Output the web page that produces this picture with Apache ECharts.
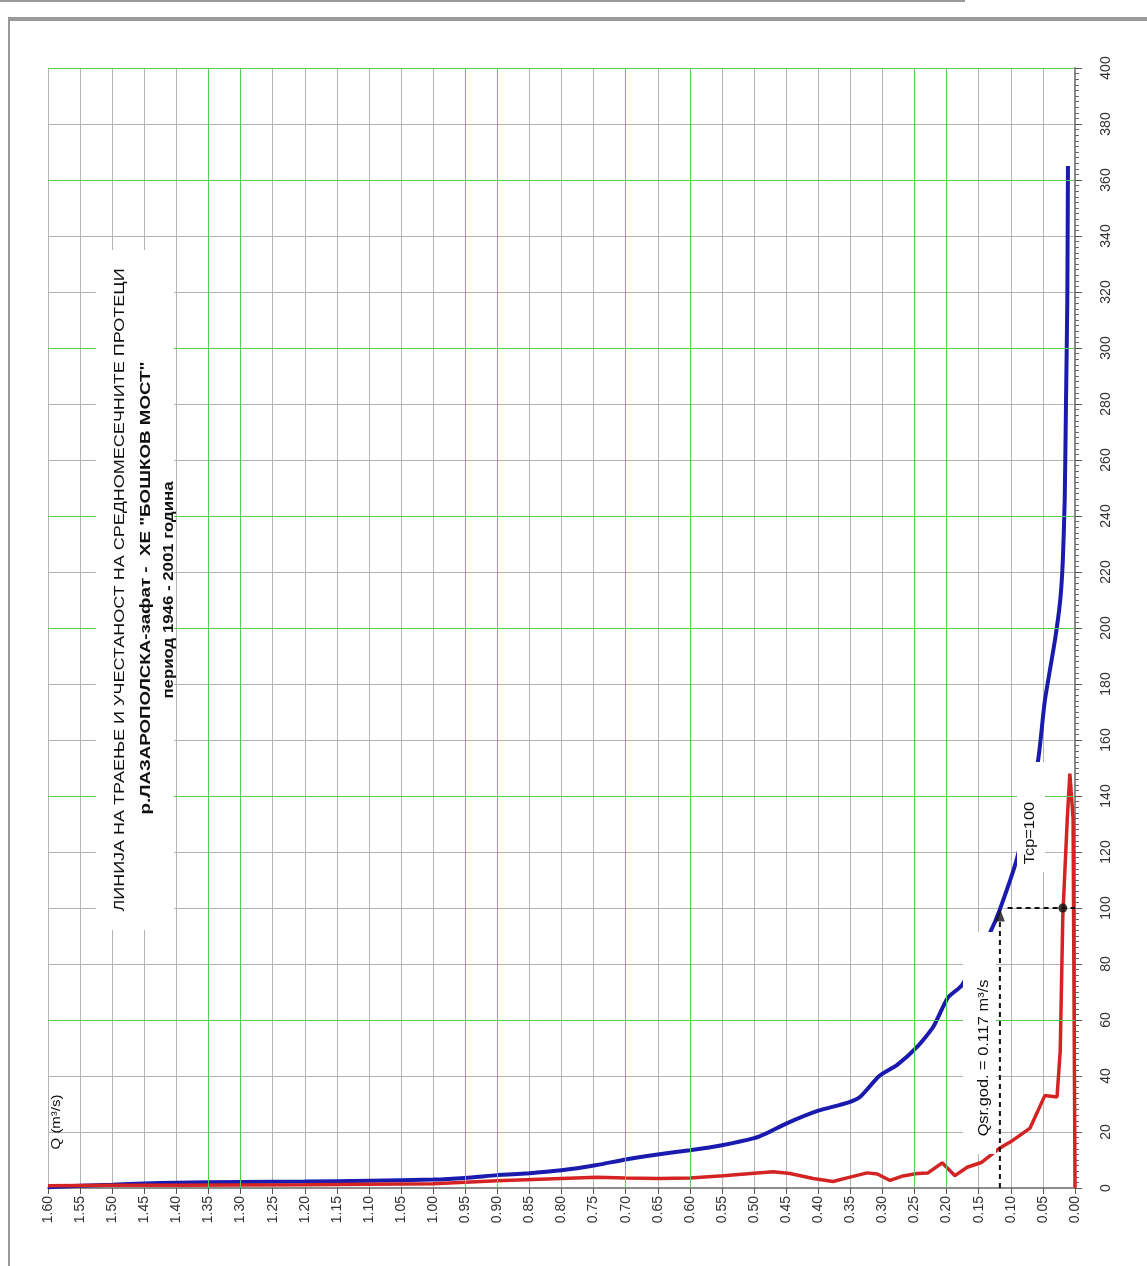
<!DOCTYPE html>
<html><head><meta charset="utf-8">
<script src="https://cdn.jsdelivr.net/npm/echarts@6/dist/echarts.min.js"></script>
<style>html,body{margin:0;padding:0;background:#fff;}#c{width:1147px;height:1266px;}</style>
</head><body><div id="c"></div>
<script>
// ---- data (Q in m3/s, duration in days) ----
const qMin = 0, qMax = 1.6, qStep = 0.05;
const dayMin = 0, dayMax = 400, dayStep = 20;

const blueQ    = [1.60, 1.55, 1.50, 1.45, 1.40, 1.30, 1.20, 1.10, 1.00, 0.95, 0.90, 0.85, 0.80, 0.745, 0.70, 0.65, 0.60, 0.55, 0.50, 0.48, 0.45, 0.40, 0.355, 0.335, 0.305, 0.277, 0.246, 0.221, 0.198, 0.176, 0.132, 0.117, 0.090, 0.058, 0.047, 0.031, 0.023, 0.019, 0.016, 0.014, 0.012, 0.011];
const blueDays = [0.3, 0.8, 1.2, 1.6, 1.9, 2.1, 2.3, 2.6, 3.0, 3.6, 4.6, 5.3, 6.3, 8.2, 10.2, 12.0, 13.5, 15.3, 17.8, 19.6, 23.0, 27.6, 30.4, 32.5, 40.0, 44.0, 50.4, 57.5, 68.0, 72.5, 91.4, 99.5, 118, 152, 174, 196, 210, 224, 246, 281, 317, 365];

const redQ    = [1.60, 1.50, 1.40, 1.20, 1.00, 0.90, 0.80, 0.745, 0.70, 0.65, 0.60, 0.548, 0.50, 0.47, 0.444, 0.408, 0.377, 0.355, 0.324, 0.308, 0.288, 0.268, 0.246, 0.229, 0.207, 0.187, 0.168, 0.145, 0.117, 0.097, 0.070, 0.047, 0.028, 0.023, 0.019, 0.012, 0.008, 0.003, 0.0, 0.0];
const redDays = [0.8, 1.0, 1.0, 1.2, 1.5, 2.6, 3.4, 3.8, 3.6, 3.4, 3.6, 4.4, 5.3, 5.8, 5.2, 3.4, 2.3, 3.6, 5.4, 5.0, 2.7, 4.3, 5.2, 5.4, 9.0, 4.4, 7.4, 9.2, 14.3, 17, 21.4, 33, 32.5, 49, 97, 132, 148, 132, 1.5, 0];

const qsr = 0.117;      // mean annual discharge
const tcp = 100;        // corresponding duration (days)
const dotQ = 0.019;     // red curve at tcp

const greenQ = [0.20, 0.25, 0.60, 0.70, 0.90, 0.95, 1.30, 1.35];
const greenDays = [60, 140, 200, 240, 300, 360, 400];

const titleLines = [
  'ЛИНИЈА НА ТРАЕЊЕ И УЧЕСТАНОСТ НА СРЕДНОМЕСЕЧНИТЕ ПРОТЕЦИ',
  'р.ЛАЗАРОПОЛСКА-зафат -  ХЕ "БОШКОВ МОСТ"',
  'период 1946 - 2001 година'
];
const qAxisName = 'Q (m³/s)';
const qsrLabel = 'Qsr.god. = 0.117 m³/s';
const tcpLabel = 'Tcp=100';

// ---- build ----
const zip = (a, b) => a.map((v, i) => [v, b[i]]);
const FONT = '"Liberation Sans", Arial, sans-serif';
const GRAY = '#b0b6b0', GREEN = '#55cc55';
const R = Math.PI / 2;

function vtext(x, y, text, size, weight, sx) {
  return { type: 'text', x: x, y: y, rotation: R, scaleX: sx || 1.17, z: 120,
    style: { text: text, font: (weight || 'normal') + ' ' + size + 'px ' + FONT, fill: '#111',
      align: 'center', verticalAlign: 'middle' } };
}

const chart = echarts.init(document.getElementById('c'), null, { renderer: 'canvas' });
chart.setOption({
  animation: false,
  backgroundColor: '#fff',
  grid: { left: 48, right: 72, top: 68, bottom: 78, containLabel: false },
  xAxis: {
    type: 'value', min: qMin, max: qMax, interval: qStep, inverse: true,
    axisLine: { show: true, onZero: false, lineStyle: { color: '#8c8c8c', width: 2 } },
    axisTick: { show: true, length: 6, lineStyle: { color: '#555' } },
    axisLabel: { rotate: 90, margin: 8, fontSize: 14, color: '#333', fontFamily: FONT,
      formatter: v => v.toFixed(2) },
    splitLine: { show: true, lineStyle: { color: GRAY, width: 1 } }
  },
  yAxis: {
    type: 'value', position: 'right', min: dayMin, max: dayMax, interval: dayStep,
    axisLine: { show: true, onZero: false, lineStyle: { color: '#8c8c8c', width: 2 } },
    axisTick: { show: true, length: 7, lineStyle: { color: '#555' } },
    minorTick: { show: true, splitNumber: 10, length: 4, lineStyle: { color: '#666' } },
    axisLabel: { rotate: 90, margin: 24, fontSize: 14, color: '#333', fontFamily: FONT },
    splitLine: { show: true, lineStyle: { color: GRAY, width: 1 } }
  },
  series: [
    { type: 'line', data: [], z: 1, silent: true,
      markLine: { silent: true, symbol: ['none', 'none'], label: { show: false },
        lineStyle: { color: GREEN, width: 1, type: 'solid' },
        data: greenQ.map(q => ({ xAxis: q })).concat(greenDays.map(d => ({ yAxis: d }))) } },
    { name: 'duration', type: 'line', data: zip(blueQ, blueDays), showSymbol: false, smooth: 0.2,
      lineStyle: { color: '#1a1aae', width: 4 }, z: 3 },
    { name: 'frequency', type: 'line', data: zip(redQ, redDays), showSymbol: false,
      lineStyle: { color: '#d42323', width: 3.5 }, z: 4 },
    { type: 'line', data: [[qsr, 0], [qsr, tcp - 4]], showSymbol: false, z: 5,
      lineStyle: { color: '#111', width: 2, type: [5, 4] } },
    { type: 'line', data: [[qsr - 0.012, tcp], [0, tcp]], showSymbol: false, z: 5,
      lineStyle: { color: '#111', width: 2, type: [5, 4] } },
    { type: 'scatter', data: [[qsr, tcp]], symbol: 'triangle', symbolSize: [10, 13], symbolOffset: [0, 7],
      itemStyle: { color: '#111' }, z: 6 },
    { type: 'scatter', data: [[dotQ, tcp]], symbol: 'circle', symbolSize: 9,
      itemStyle: { color: '#111' }, z: 6 }
  ],
  graphic: [
    { type: 'line', shape: { x1: 0, y1: 1, x2: 965, y2: 1 }, style: { stroke: '#9a9a9a', lineWidth: 2 }, z: 130 },
    { type: 'line', shape: { x1: 8, y1: 19, x2: 1147, y2: 19 }, style: { stroke: '#999', lineWidth: 4 }, z: 130 },
    { type: 'line', shape: { x1: 9, y1: 19, x2: 9, y2: 1266 }, style: { stroke: '#999', lineWidth: 2 }, z: 130 },
    { type: 'rect', shape: { x: 96, y: 250, width: 78, height: 680 }, style: { fill: '#fff' }, z: 100 },
    { type: 'rect', shape: { x: 963, y: 932, width: 33, height: 222 }, style: { fill: '#fff' }, z: 100 },
    { type: 'rect', shape: { x: 1017, y: 762, width: 28, height: 110 }, style: { fill: '#fff' }, z: 100 },
    vtext(120, 590, titleLines[0], 15, 'normal', 1.2),
    vtext(146, 588, titleLines[1], 15, 'bold', 1.25),
    vtext(169, 590, titleLines[2], 14, 'bold', 1.2),
    vtext(56, 1122, qAxisName, 13, 'normal', 1.15),
    vtext(984, 1058, qsrLabel, 14, 'normal', 1.17),
    vtext(1030, 833, tcpLabel, 14, 'normal', 1.17)
  ]
});
</script></body></html>
